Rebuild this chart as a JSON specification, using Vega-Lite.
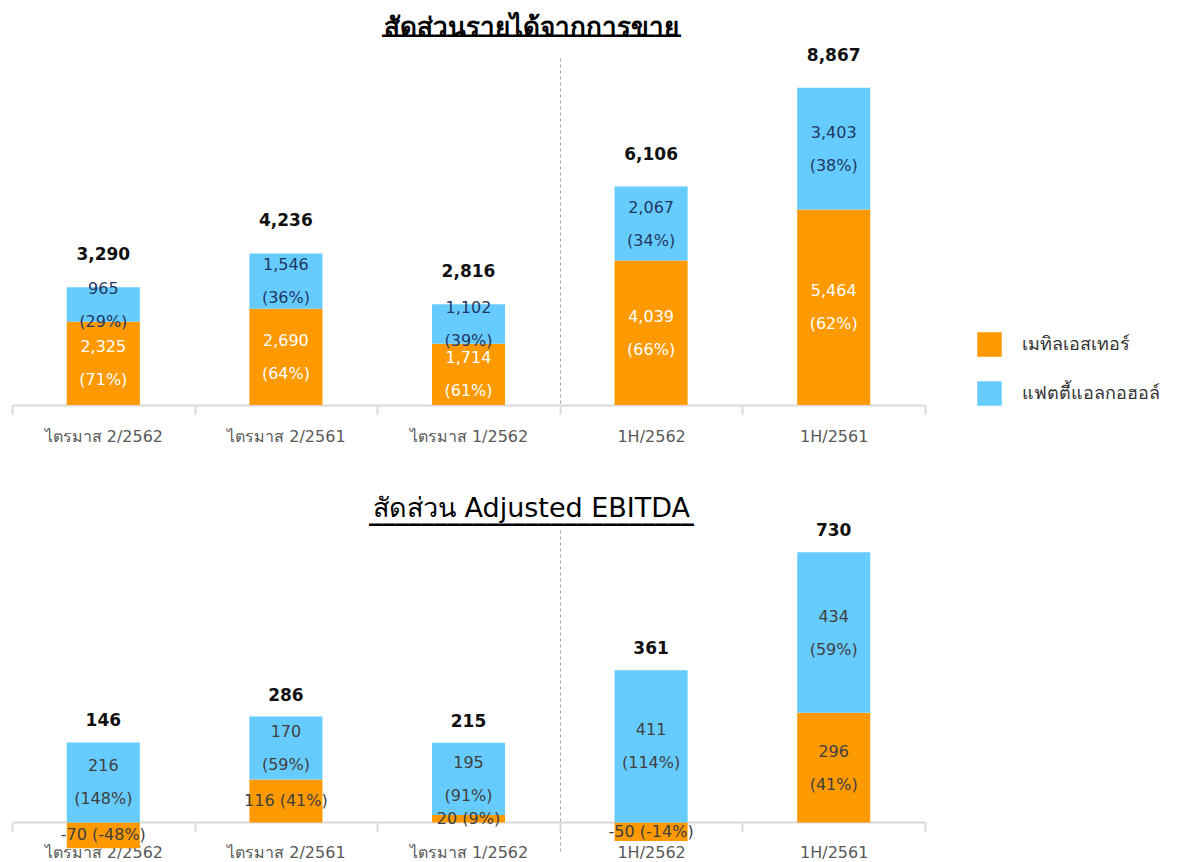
{
  "$schema": "https://vega.github.io/schema/vega-lite/v6.json",
  "padding": {"left": 11, "top": 9, "right": 5, "bottom": 0},
  "config": {
    "view": {"stroke": null},
    "font": "DejaVu Sans",
    "text": {"lineBreak": "\n"},
    "axisX": {
      "title": null,
      "labelAngle": 0,
      "labelFontSize": 16,
      "labelColor": "#595959",
      "labelPadding": 14,
      "domainColor": "#D9D9D9",
      "domainWidth": 2,
      "tickColor": "#D9D9D9",
      "tickWidth": 2,
      "tickSize": 9,
      "tickBand": "extent",
      "grid": true,
      "gridDash": [3, 3],
      "gridColor": "#A6A6A6",
      "gridWidth": 1,
      "zindex": 1
    }
  },
  "datasets": {
    "rev": [
      {"cat": "ไตรมาส 2/2562", "seg": "เมทิลเอสเทอร์", "value": 2325, "label": "2,325\n(71%)"},
      {"cat": "ไตรมาส 2/2562", "seg": "แฟตตี้แอลกอฮอล์", "value": 965, "label": "965\n(29%)"},
      {"cat": "ไตรมาส 2/2561", "seg": "เมทิลเอสเทอร์", "value": 2690, "label": "2,690\n(64%)"},
      {"cat": "ไตรมาส 2/2561", "seg": "แฟตตี้แอลกอฮอล์", "value": 1546, "label": "1,546\n(36%)"},
      {"cat": "ไตรมาส 1/2562", "seg": "เมทิลเอสเทอร์", "value": 1714, "label": "1,714\n(61%)"},
      {"cat": "ไตรมาส 1/2562", "seg": "แฟตตี้แอลกอฮอล์", "value": 1102, "label": "1,102\n(39%)"},
      {"cat": "1H/2562", "seg": "เมทิลเอสเทอร์", "value": 4039, "label": "4,039\n(66%)"},
      {"cat": "1H/2562", "seg": "แฟตตี้แอลกอฮอล์", "value": 2067, "label": "2,067\n(34%)"},
      {"cat": "1H/2561", "seg": "เมทิลเอสเทอร์", "value": 5464, "label": "5,464\n(62%)"},
      {"cat": "1H/2561", "seg": "แฟตตี้แอลกอฮอล์", "value": 3403, "label": "3,403\n(38%)"}
    ],
    "revTotal": [
      {"cat": "ไตรมาส 2/2562", "total": 3290, "top": 3290},
      {"cat": "ไตรมาส 2/2561", "total": 4236, "top": 4236},
      {"cat": "ไตรมาส 1/2562", "total": 2816, "top": 2816},
      {"cat": "1H/2562", "total": 6106, "top": 6106},
      {"cat": "1H/2561", "total": 8867, "top": 8867}
    ],
    "ebitda": [
      {"cat": "ไตรมาส 2/2562", "seg": "เมทิลเอสเทอร์", "value": -70, "label": "-70 (-48%)"},
      {"cat": "ไตรมาส 2/2562", "seg": "แฟตตี้แอลกอฮอล์", "value": 216, "label": "216\n(148%)"},
      {"cat": "ไตรมาส 2/2561", "seg": "เมทิลเอสเทอร์", "value": 116, "label": "116 (41%)"},
      {"cat": "ไตรมาส 2/2561", "seg": "แฟตตี้แอลกอฮอล์", "value": 170, "label": "170\n(59%)"},
      {"cat": "ไตรมาส 1/2562", "seg": "เมทิลเอสเทอร์", "value": 20, "label": "20 (9%)"},
      {"cat": "ไตรมาส 1/2562", "seg": "แฟตตี้แอลกอฮอล์", "value": 195, "label": "195\n(91%)"},
      {"cat": "1H/2562", "seg": "เมทิลเอสเทอร์", "value": -50, "label": "-50 (-14%)"},
      {"cat": "1H/2562", "seg": "แฟตตี้แอลกอฮอล์", "value": 411, "label": "411\n(114%)"},
      {"cat": "1H/2561", "seg": "เมทิลเอสเทอร์", "value": 296, "label": "296\n(41%)"},
      {"cat": "1H/2561", "seg": "แฟตตี้แอลกอฮอล์", "value": 434, "label": "434\n(59%)"}
    ],
    "ebitdaTotal": [
      {"cat": "ไตรมาส 2/2562", "total": 146, "top": 216},
      {"cat": "ไตรมาส 2/2561", "total": 286, "top": 286},
      {"cat": "ไตรมาส 1/2562", "total": 215, "top": 215},
      {"cat": "1H/2562", "total": 361, "top": 411},
      {"cat": "1H/2561", "total": 730, "top": 730}
    ]
  },
  "spacing": 51,
  "vconcat": [
    {
      "title": {"text": "สัดส่วนรายได้จากการขาย", "fontSize": 26, "fontWeight": "bold", "color": "#000000", "anchor": "middle", "dx": 63, "offset": 1,
        "subtitle": "_______________________", "subtitleFontSize": 26, "subtitleFontWeight": "bold", "subtitleColor": "#000000", "subtitlePadding": -31},
      "width": 913,
      "height": 347,
      "encoding": {
        "x": {
          "field": "cat", "type": "nominal",
          "sort": ["ไตรมาส 2/2562", "ไตรมาส 2/2561", "ไตรมาส 1/2562", "1H/2562", "1H/2561"],
          "scale": {"paddingInner": 0, "paddingOuter": 0},
          "axis": {"gridOpacity": {"condition": {"test": "datum.value === 'ไตรมาส 1/2562'", "value": 1}, "value": 0}}
        }
      },
      "layer": [
        {
          "data": {"name": "rev"},
          "mark": {"type": "bar", "width": {"band": 0.4}},
          "encoding": {
            "y": {"field": "value", "type": "quantitative", "stack": "zero", "scale": {"domain": [0, 9700], "nice": false}, "axis": null},
            "order": {"field": "seg", "sort": "ascending"},
            "color": {
              "field": "seg", "type": "nominal",
              "scale": {"domain": ["เมทิลเอสเทอร์", "แฟตตี้แอลกอฮอล์"], "range": ["#FF9900", "#66CCFF"]},
              "legend": {"orient": "none", "legendX": 965, "legendY": 274, "title": null, "symbolType": "square", "symbolSize": 600, "symbolStrokeWidth": 0, "labelFontSize": 18, "labelColor": "#333333", "rowPadding": 24, "labelOffset": 20}
            }
          }
        },
        {
          "data": {"name": "rev"},
          "mark": {"type": "text", "fontSize": 16, "lineHeight": 33, "baseline": "middle", "dy": -16},
          "encoding": {
            "y": {"field": "value", "type": "quantitative", "stack": "zero", "bandPosition": 0.5},
            "order": {"field": "seg", "sort": "ascending"},
            "text": {"field": "label"},
            "color": {"condition": {"test": "datum.seg === 'เมทิลเอสเทอร์'", "value": "#FFFFFF"}, "value": "#1F3864"}
          }
        },
        {
          "data": {"name": "revTotal"},
          "mark": {"type": "text", "fontSize": 17, "fontWeight": "bold", "dy": -32, "color": "#111111"},
          "encoding": {
            "y": {"field": "top", "type": "quantitative"},
            "text": {"field": "total", "type": "quantitative", "format": ",.0f"}
          }
        }
      ]
    },
    {
      "title": {"text": "สัดส่วน Adjusted EBITDA", "fontSize": 27, "fontWeight": "normal", "color": "#000000", "anchor": "middle", "dx": 63, "offset": -4,
        "subtitle": "_________________________", "subtitleFontSize": 26, "subtitleFontWeight": "bold", "subtitleColor": "#000000", "subtitlePadding": -24},
      "width": 913,
      "height": 322,
      "encoding": {
        "x": {
          "field": "cat", "type": "nominal",
          "sort": ["ไตรมาส 2/2562", "ไตรมาส 2/2561", "ไตรมาส 1/2562", "1H/2562", "1H/2561"],
          "scale": {"paddingInner": 0, "paddingOuter": 0},
          "axis": {"offset": -30, "labelPadding": 13, "gridOpacity": {"condition": {"test": "datum.value === 'ไตรมาส 1/2562'", "value": 1}, "value": 0}}
        }
      },
      "layer": [
        {
          "data": {"name": "ebitda"},
          "mark": {"type": "bar", "width": {"band": 0.4}},
          "encoding": {
            "y": {"field": "value", "type": "quantitative", "stack": "zero", "scale": {"domain": [-80, 790], "nice": false}, "axis": null},
            "order": {"field": "seg", "sort": "ascending"},
            "color": {"field": "seg", "type": "nominal"}
          }
        },
        {
          "data": {"name": "ebitda"},
          "mark": {"type": "text", "fontSize": 16, "lineHeight": 33, "baseline": "middle", "color": "#404040", "dy": -16},
          "encoding": {
            "y": {"field": "value", "type": "quantitative", "stack": "zero", "bandPosition": 0.5},
            "order": {"field": "seg", "sort": "ascending"},
            "text": {"condition": {"test": "indexof(datum.label, '\\n') >= 0", "field": "label"}, "value": ""}
          }
        },
        {
          "data": {"name": "ebitda"},
          "mark": {"type": "text", "fontSize": 16, "baseline": "middle", "color": "#404040"},
          "encoding": {
            "y": {"field": "value", "type": "quantitative", "stack": "zero", "bandPosition": 0.5},
            "order": {"field": "seg", "sort": "ascending"},
            "text": {"condition": {"test": "indexof(datum.label, '\\n') < 0", "field": "label"}, "value": ""}
          }
        },
        {
          "data": {"name": "ebitdaTotal"},
          "mark": {"type": "text", "fontSize": 17, "fontWeight": "bold", "dy": -21, "color": "#111111"},
          "encoding": {
            "y": {"field": "top", "type": "quantitative"},
            "text": {"field": "total", "type": "quantitative", "format": ",.0f"}
          }
        }
      ]
    }
  ]
}
